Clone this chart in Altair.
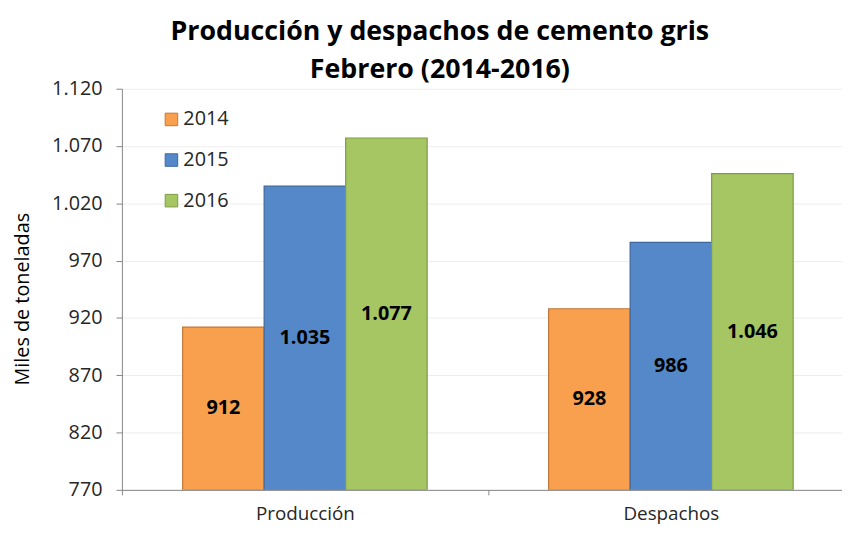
import altair as alt
import pandas as pd

categorias = ["Producción", "Despachos"]
anios = ["2014", "2015", "2016"]
produccion = [912, 1035, 1077]
despachos = [928, 986, 1046]
y_ticks = [770, 820, 870, 920, 970, 1020, 1070, 1120]

colores = ["#F9A04E", "#5588C8", "#A5C663"]
bordes = ["#C4773A", "#3D679C", "#7D9B47"]

rows = []
for cat, vals in zip(categorias, [produccion, despachos]):
    for a, v in zip(anios, vals):
        rows.append({"categoria": cat, "anio": a, "valor": v})
df = pd.DataFrame(rows)

FONT = "Open Sans"

x_enc = alt.X(
    "categoria:N",
    sort=categorias,
    scale=alt.Scale(paddingInner=0, paddingOuter=0, range=[0, 739]),
    axis=alt.Axis(
        title=None,
        tickBand="extent",
        tickSize=5,
        tickColor="#868686",
        domainColor="#868686",
        labelFontSize=19,
        labelFont=FONT,
        labelColor="#262626",
        labelPadding=10,
        labelAngle=0,
        zindex=1,
    ),
)
xoff = alt.XOffset("anio:N", sort=anios, scale=alt.Scale(paddingOuter=0.745, paddingInner=0))

base = alt.Chart(df).transform_calculate(
    mid="(770 + datum.valor) / 2",
    etiqueta="replace(format(datum.valor, ','), ',', '.')",
)

bars = base.mark_bar(strokeWidth=1.2, clip=True).encode(
    x=x_enc,
    xOffset=xoff,
    y=alt.Y(
        "valor:Q",
        scale=alt.Scale(domain=[770, 1120], nice=False, zero=False),
        axis=alt.Axis(
            title="Miles de toneladas",
            titleFont=FONT,
            titleFontSize=20,
            titleFontWeight="normal",
            titleColor="#000000",
            titleX=-100,
            titleY=212,
            titleAngle=270,
            titleAlign="center",
            titleBaseline="middle",
            values=y_ticks,
            labelExpr="replace(format(datum.value, ','), ',', '.')",
            labelFont=FONT,
            labelFontSize=20,
            labelColor="#262626",
            labelPadding=14,
            tickSize=6,
            tickColor="#868686",
            domainColor="#868686",
            gridColor="#EDEDED",
        ),
    ),
    y2=alt.Y2(datum=770),
    color=alt.Color(
        "anio:N",
        sort=anios,
        scale=alt.Scale(domain=anios, range=colores),
        legend=alt.Legend(
            title=None,
            orient="none",
            legendX=40,
            legendY=21,
            symbolType="square",
            symbolSize=160,
            symbolStrokeWidth=1,
            labelFont=FONT,
            labelFontSize=20,
            labelColor="#262626",
            rowPadding=21,
            labelOffset=2,
        ),
    ),
    stroke=alt.Stroke("anio:N", sort=anios, scale=alt.Scale(domain=anios, range=bordes), legend=None),
)

texts = base.mark_text(fontSize=20, fontWeight="bold", font=FONT, color="#000000", baseline="middle").encode(
    x=x_enc,
    xOffset=xoff,
    y=alt.Y("mid:Q"),
    text="etiqueta:N",
)

chart = (
    alt.layer(bars, texts)
    .properties(
        width=722,
        height=405,
        padding={"left": 115, "top": 79, "right": 5, "bottom": 36},
        autosize=alt.AutoSizeParams(type="none"),
        title=alt.TitleParams(
            text=["Producción y despachos de cemento gris", "Febrero (2014-2016)"],
            font=FONT,
            fontSize=27,
            fontWeight="bold",
            color="#000000",
            anchor="middle",
            lineHeight=38,
            offset=-5,
            dx=-40,
        ),
    )
    .configure_view(stroke=None)
)

chart.save("out.html", embed_options={"renderer": "svg", "actions": False})
